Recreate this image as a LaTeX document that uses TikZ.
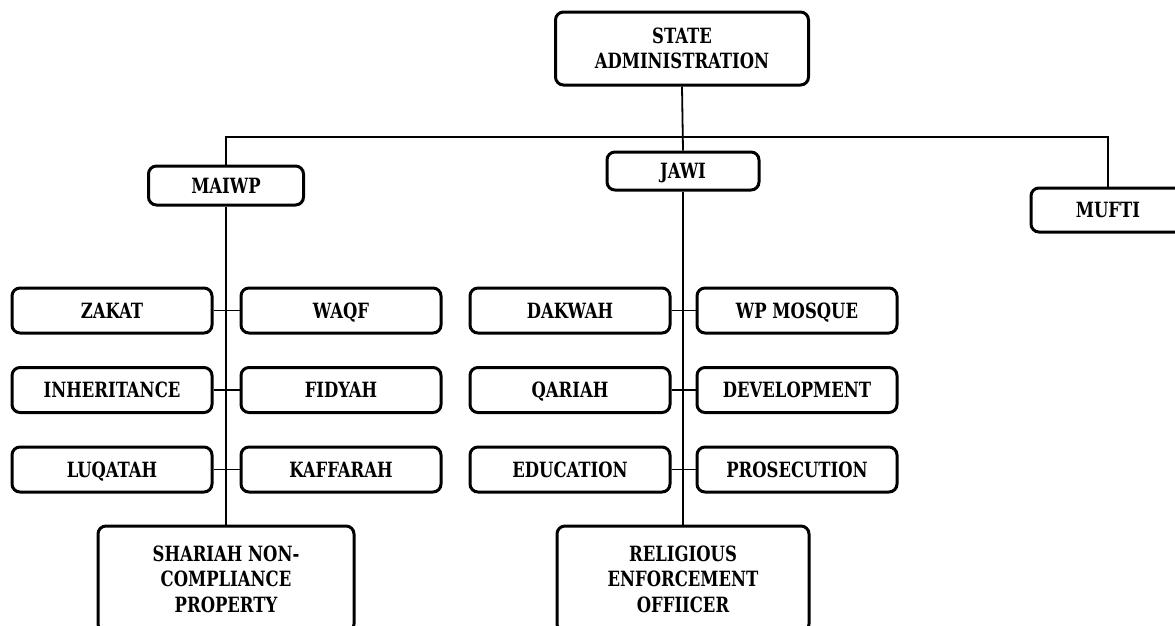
\documentclass[tikz,border=0pt]{standalone}
\usepackage{fontspec}
\setmainfont[FakeStretch=0.87]{DejaVu Serif Condensed}
\begin{document}
\begin{tikzpicture}[x=1pt,y=-1pt,
  box/.style={draw, line width=3pt, rounded corners=8pt, align=center,
    font=\fontsize{21}{25.5}\selectfont\bfseries, inner sep=0pt},
  sbox/.style={box, minimum width=200pt, minimum height=45pt},
  one/.style={text height=15.3pt, text depth=0pt},
  conn/.style={line width=1.8pt}]
\useasboundingbox (0,0) rectangle (1175,625);
\clip (0,0) rectangle (1175,625);
\node[box, minimum width=253pt, minimum height=73pt] (state) at (682,48.5) {STATE\\ADMINISTRATION};
\node[box, one, minimum width=155pt, minimum height=39pt] (maiwp) at (226,185.5) {MAIWP};
\node[box, one, minimum width=152pt, minimum height=38pt] (jawi) at (683,171) {JAWI};
\node[box, one, minimum width=154pt, minimum height=44pt] (mufti) at (1108,210) {MUFTI};
\coordinate (bus) at (683,137);
% MAIWP group
\node[sbox, one] (zakat) at (112,310.5) {ZAKAT};
\node[sbox, one] (waqf) at (341,310.5) {WAQF};
\node[sbox, one] (inher) at (112,390) {INHERITANCE};
\node[sbox, one] (fidyah) at (341,390) {FIDYAH};
\node[sbox, one] (luqatah) at (112,469.5) {LUQATAH};
\node[sbox, one] (kaffarah) at (341,469.5) {KAFFARAH};
\node[box, minimum width=256pt, minimum height=106pt] (shariah) at (226,579) {SHARIAH NON-\\COMPLIANCE\\PROPERTY};
% JAWI group
\node[sbox, one] (dakwah) at (570,310.5) {DAKWAH};
\node[sbox, one] (mosque) at (797,310.5) {WP MOSQUE};
\node[sbox, one] (qariah) at (570,390) {QARIAH};
\node[sbox, one] (devel) at (797,390) {DEVELOPMENT};
\node[sbox, one] (educ) at (570,469.5) {EDUCATION};
\node[sbox, one] (prosec) at (797,469.5) {PROSECUTION};
\node[box, minimum width=252pt, minimum height=106pt] (relig) at (683,579) {RELIGIOUS\\ENFORCEMENT\\OFFIICER};
% connectors
\draw[conn] (state.south) -- (jawi.north);
\draw[conn] (maiwp.north) -- (maiwp.north |- bus) -- (mufti.north |- bus) -- (mufti.north);
\draw[conn] (maiwp.south) -- (shariah.north);
\draw[conn] (jawi.south) -- (relig.north);
\draw[conn] (zakat.east) -- (waqf.west);
\draw[conn] (inher.east) -- (fidyah.west);
\draw[conn] (luqatah.east) -- (kaffarah.west);
\draw[conn] (dakwah.east) -- (mosque.west);
\draw[conn] (qariah.east) -- (devel.west);
\draw[conn] (educ.east) -- (prosec.west);
\end{tikzpicture}
\end{document}
